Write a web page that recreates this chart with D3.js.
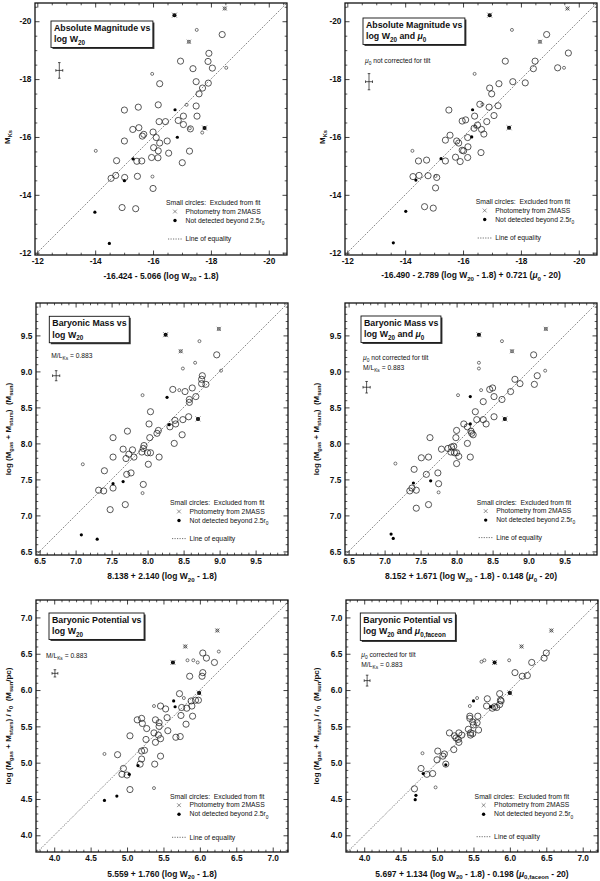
<!DOCTYPE html>
<html>
<head>
<meta charset="utf-8">
<script src="https://cdn.jsdelivr.net/npm/d3@7"></script>
<style>
  body { margin: 0; background: #fff; }
  svg { display: block; }
  text { font-family: "Liberation Sans", Arial, sans-serif; fill: #111; white-space: pre; }
</style>
</head>
<body>
<svg id="chart" width="600" height="881"></svg>
<script>
// ---- data ----
// point type: o = in fit, s = excluded (small), f = not detected beyond 2.5r0,
// x = 2MASS photometry (excluded), fx = 2MASS + not detected
const magW20 = [
  [-16.74,-20.21,'fx'],[-18.48,-20.44,'x'],[-17.51,-19.70,'s'],[-18.39,-19.54,'o'],[-17.24,-19.29,'x'],
  [-17.93,-18.89,'o'],[-16.95,-18.62,'o'],[-17.90,-18.61,'o'],[-17.38,-18.36,'o'],[-18.05,-18.38,'o'],
  [-18.53,-18.39,'s'],[-15.97,-18.18,'s'],[-16.23,-17.84,'o'],[-17.49,-17.91,'o'],[-17.91,-17.86,'o'],
  [-17.71,-17.69,'o'],[-17.59,-17.49,'o'],[-15.49,-17.03,'o'],[-15.01,-16.93,'o'],[-16.18,-17.11,'o'],
  [-17.16,-17.11,'s'],[-17.49,-17.07,'o'],[-16.76,-16.94,'f'],[-17.05,-16.72,'o'],[-17.52,-16.72,'o'],
  [-16.87,-16.57,'o'],[-16.21,-16.53,'o'],[-16.43,-16.53,'o'],[-17.05,-16.43,'o'],[-15.30,-16.26,'o'],
  [-15.51,-16.32,'o'],[-17.29,-16.28,'o'],[-17.27,-16.30,'s'],[-17.78,-16.31,'fx'],[-17.70,-16.15,'s'],
  [-16.00,-16.17,'o'],[-15.68,-16.09,'o'],[-15.63,-16.03,'o'],[-16.11,-15.98,'o'],[-16.84,-15.99,'f'],
  [-15.01,-15.86,'o'],[-16.49,-15.86,'o'],[-16.23,-15.79,'o'],[-16.02,-15.63,'o'],[-14.02,-15.52,'s'],
  [-16.18,-15.52,'o'],[-16.54,-15.44,'o'],[-17.26,-15.51,'o'],[-15.95,-15.29,'o'],[-16.17,-15.28,'o'],
  [-15.31,-15.24,'f'],[-14.74,-15.18,'o'],[-15.44,-15.16,'o'],[-15.61,-15.17,'o'],[-17.01,-15.11,'o'],
  [-14.71,-14.67,'o'],[-14.55,-14.57,'o'],[-15.02,-14.60,'o'],[-15.46,-14.64,'o'],[-15.98,-14.63,'s'],
  [-15.01,-14.49,'f'],[-16.00,-14.22,'o'],[-14.93,-13.56,'o'],[-15.40,-13.52,'o'],[-13.99,-13.40,'f'],
  [-14.49,-12.32,'f']
];
const magW20Mu = [
  [-16.92,-20.21,'fx'],[-19.61,-20.44,'x'],[-17.69,-19.70,'s'],[-18.89,-19.54,'o'],[-18.66,-19.29,'x'],
  [-19.64,-18.90,'o'],[-17.46,-18.62,'o'],[-18.49,-18.62,'o'],[-18.43,-18.36,'o'],[-19.27,-18.39,'o'],
  [-19.49,-18.39,'s'],[-16.40,-18.18,'s'],[-17.24,-17.84,'o'],[-17.72,-17.91,'o'],[-18.15,-17.87,'o'],
  [-16.92,-17.69,'o'],[-16.99,-17.49,'o'],[-15.51,-16.93,'o'],[-16.58,-17.13,'o'],[-16.67,-17.13,'s'],
  [-16.90,-17.03,'o'],[-17.21,-17.08,'o'],[-16.33,-16.94,'f'],[-16.40,-16.72,'o'],[-17.07,-16.74,'o'],
  [-15.97,-16.55,'o'],[-16.09,-16.59,'o'],[-16.50,-16.41,'o'],[-16.82,-16.53,'o'],[-16.38,-16.30,'o'],
  [-16.64,-16.26,'o'],[-16.43,-16.35,'s'],[-17.59,-16.32,'fx'],[-16.72,-16.10,'o'],[-15.55,-16.06,'o'],
  [-15.39,-15.89,'o'],[-15.78,-15.86,'o'],[-15.85,-15.79,'o'],[-16.16,-15.98,'o'],[-16.30,-16.00,'f'],
  [-16.17,-15.66,'o'],[-15.97,-15.54,'o'],[-16.02,-15.52,'o'],[-16.62,-15.46,'o'],[-14.25,-15.52,'s'],
  [-15.74,-15.30,'o'],[-16.16,-15.29,'o'],[-15.90,-15.15,'o'],[-15.24,-15.25,'f'],[-14.74,-15.20,'o'],
  [-14.46,-15.17,'o'],[-15.39,-15.17,'o'],[-14.27,-14.63,'o'],[-14.48,-14.67,'o'],[-14.79,-14.66,'o'],
  [-15.09,-14.60,'o'],[-15.05,-14.65,'s'],[-14.37,-14.51,'f'],[-15.05,-14.24,'o'],[-14.67,-13.59,'o'],
  [-14.97,-13.54,'o'],[-14.02,-13.43,'f'],[-13.59,-12.34,'f']
];
const massW20 = [
  [8.25,9.51,'fx'],[8.99,9.59,'x'],[8.72,9.42,'s'],[8.46,9.28,'x'],[8.96,9.23,'o'],
  [8.66,9.12,'s'],[8.49,9.04,'s'],[9.02,9.01,'s'],[8.76,8.94,'o'],[8.75,8.89,'o'],
  [8.75,8.83,'o'],[8.81,8.82,'o'],[8.62,8.77,'o'],[8.35,8.75,'o'],[8.44,8.74,'s'],
  [8.52,8.72,'o'],[8.67,8.65,'o'],[7.93,8.67,'s'],[8.27,8.64,'f'],[8.58,8.61,'o'],
  [8.58,8.57,'o'],[8.04,8.44,'o'],[8.57,8.37,'o'],[8.49,8.33,'o'],[8.38,8.32,'o'],
  [8.70,8.34,'fx'],[8.02,8.27,'o'],[8.39,8.27,'o'],[8.30,8.26,'f'],[8.31,8.23,'o'],
  [8.15,8.18,'o'],[8.13,8.14,'o'],[7.72,8.17,'o'],[7.52,8.08,'o'],[8.03,8.08,'o'],
  [8.48,8.12,'o'],[8.37,8.00,'o'],[7.95,7.97,'o'],[7.66,7.92,'o'],[7.79,7.91,'o'],
  [7.94,7.93,'o'],[7.92,7.88,'o'],[8.00,7.87,'o'],[8.04,7.87,'o'],[7.74,7.85,'o'],
  [7.52,7.81,'o'],[7.70,7.79,'o'],[7.81,7.81,'o'],[8.16,7.81,'o'],[8.01,7.71,'o'],
  [7.10,7.71,'s'],[7.40,7.62,'o'],[7.77,7.59,'o'],[7.71,7.57,'o'],[7.52,7.44,'f'],
  [7.94,7.43,'o'],[7.66,7.47,'f'],[7.52,7.38,'o'],[7.32,7.35,'o'],[7.39,7.34,'o'],
  [7.93,7.31,'s'],[7.69,7.15,'o'],[7.48,7.08,'o'],[7.08,6.73,'f'],[7.30,6.67,'f']
];
const massW20Mu = [
  [8.31,9.51,'fx'],[9.24,9.59,'x'],[8.63,9.42,'s'],[8.77,9.28,'x'],[9.07,9.23,'o'],
  [8.31,9.12,'s'],[8.31,9.04,'s'],[9.23,9.01,'s'],[9.12,8.94,'o'],[8.81,8.89,'o'],
  [8.88,8.83,'o'],[9.08,8.82,'o'],[8.50,8.77,'o'],[8.46,8.75,'o'],[8.34,8.74,'s'],
  [8.75,8.72,'o'],[8.52,8.65,'o'],[8.02,8.67,'s'],[8.19,8.65,'f'],[8.63,8.61,'o'],
  [8.37,8.58,'o'],[8.26,8.44,'o'],[8.52,8.37,'o'],[8.37,8.33,'o'],[8.28,8.33,'o'],
  [8.67,8.34,'fx'],[8.41,8.27,'o'],[8.10,8.27,'o'],[8.19,8.27,'f'],[8.15,8.23,'o'],
  [8.20,8.17,'o'],[8.23,8.12,'o'],[8.00,8.18,'o'],[7.63,8.08,'o'],[7.99,8.08,'o'],
  [8.21,8.14,'o'],[8.15,8.00,'o'],[7.96,7.96,'o'],[7.79,7.92,'o'],[7.88,7.93,'o'],
  [7.92,7.88,'o'],[7.97,7.87,'o'],[8.00,7.87,'o'],[7.93,7.95,'o'],[7.51,7.80,'o'],
  [7.61,7.81,'o'],[8.03,7.82,'o'],[8.19,7.81,'o'],[8.00,7.72,'o'],[7.15,7.72,'s'],
  [7.41,7.64,'o'],[7.58,7.57,'o'],[7.74,7.59,'o'],[7.40,7.45,'f'],[7.75,7.44,'o'],
  [7.64,7.48,'f'],[7.44,7.35,'o'],[7.35,7.34,'o'],[7.38,7.38,'o'],[7.75,7.32,'s'],
  [7.61,7.15,'o'],[7.44,7.10,'o'],[7.09,6.74,'f'],[7.12,6.68,'f']
];
const potW20 = [
  [6.24,6.82,'x'],[5.80,6.60,'x'],[6.26,6.53,'s'],[5.63,6.38,'fx'],[5.83,6.41,'s'],
  [5.91,6.41,'s'],[5.97,6.38,'s'],[6.04,6.51,'o'],[6.09,6.44,'o'],[6.20,6.38,'o'],
  [6.04,6.24,'o'],[6.03,6.19,'o'],[5.86,6.19,'o'],[5.99,5.96,'fx'],[5.72,5.95,'o'],
  [5.78,5.89,'s'],[5.64,5.85,'f'],[5.88,5.85,'o'],[5.94,5.86,'o'],[5.98,5.86,'o'],
  [5.37,5.78,'s'],[5.46,5.78,'o'],[5.53,5.74,'o'],[5.66,5.77,'f'],[5.75,5.76,'o'],
  [5.82,5.75,'o'],[5.89,5.78,'o'],[5.74,5.65,'o'],[5.55,5.62,'o'],[5.90,5.64,'o'],
  [5.14,5.59,'o'],[5.20,5.61,'o'],[5.39,5.59,'o'],[5.21,5.54,'o'],[5.44,5.55,'o'],
  [5.81,5.53,'o'],[5.44,5.50,'o'],[5.27,5.47,'o'],[5.56,5.44,'o'],[5.37,5.41,'o'],
  [5.43,5.38,'o'],[5.67,5.35,'o'],[5.73,5.36,'o'],[5.04,5.37,'o'],[5.46,5.33,'o'],
  [5.26,5.32,'o'],[5.39,5.28,'o'],[5.24,5.17,'o'],[5.20,5.16,'o'],[5.46,5.09,'o'],
  [4.87,5.11,'o'],[4.69,5.12,'s'],[5.20,5.05,'o'],[5.18,4.98,'o'],[5.38,4.98,'o'],
  [5.15,4.96,'f'],[4.95,4.92,'o'],[4.93,4.84,'o'],[5.00,4.83,'o'],[5.03,4.84,'f'],
  [5.04,4.63,'o'],[5.37,4.65,'s'],[4.86,4.54,'f'],[4.69,4.48,'f']
];
const potW20Mu = [
  [6.57,6.82,'x'],[6.16,6.60,'x'],[6.50,6.51,'o'],[6.47,6.44,'o'],[6.30,6.38,'o'],
  [5.79,6.38,'fx'],[5.61,6.39,'s'],[5.65,6.41,'s'],[5.99,6.41,'s'],[6.07,6.24,'o'],
  [6.17,6.19,'o'],[6.24,6.20,'o'],[6.00,5.96,'fx'],[5.86,5.95,'o'],[5.55,5.89,'s'],
  [5.50,5.85,'f'],[5.69,5.88,'o'],[5.87,5.86,'o'],[5.88,5.85,'o'],[5.86,5.80,'o'],
  [5.45,5.78,'s'],[5.74,5.77,'f'],[5.68,5.78,'o'],[5.76,5.75,'o'],[5.79,5.77,'o'],
  [5.82,5.76,'o'],[5.45,5.64,'o'],[5.45,5.61,'o'],[5.56,5.64,'o'],[5.49,5.56,'o'],
  [5.50,5.52,'o'],[5.55,5.55,'o'],[5.57,5.45,'o'],[5.43,5.46,'o'],[5.46,5.41,'o'],
  [5.49,5.40,'o'],[5.46,5.38,'o'],[5.17,5.41,'o'],[5.30,5.41,'o'],[5.34,5.38,'o'],
  [5.26,5.34,'o'],[5.24,5.37,'o'],[5.29,5.32,'o'],[5.23,5.18,'o'],[5.30,5.28,'o'],
  [5.00,5.04,'o'],[5.01,5.16,'o'],[5.08,5.09,'o'],[5.10,5.12,'o'],[4.80,5.13,'s'],
  [5.12,4.98,'o'],[5.12,4.97,'f'],[4.78,4.92,'o'],[4.86,4.84,'o'],[4.94,4.85,'o'],
  [4.81,4.85,'f'],[4.69,4.64,'o'],[4.98,4.66,'s'],[4.71,4.55,'f'],[4.70,4.49,'f']
];

// typical error bars: [x, y, xerr, yerr]
const errMagW20 = [-12.76, -18.30, 0.12, 0.27];
const errMagW20Mu = [-12.75, -17.91, 0.12, 0.28];
const errMassW20 = [6.73, 8.94, 0.05, 0.07];
const errMassW20Mu = [6.75, 8.78, 0.05, 0.08];
const errPotW20 = [4.01, 6.23, 0.04, 0.05];
const errPotW20Mu = [4.04, 6.13, 0.04, 0.075];

const magTicks = [-12, -14, -16, -18, -20];
const massTicks = [6.5, 7.0, 7.5, 8.0, 8.5, 9.0, 9.5];
const potTicks = [4.0, 4.5, 5.0, 5.5, 6.0, 6.5, 7.0];
const magDomain = [-11.92, -20.63];
const massDomain = [6.45, 9.95];
const potDomainX = [3.75, 7.21];
const potDomainY = [3.77, 7.24];

const mlRatio = '0.883';

// ---- text pieces ----
const W20 = [['log W'], ['20', 'sub']];
const MU0 = [['\u03bc', 'it'], ['0', 'sub']];
const mlNote = [['M/L'], ['Ks', 'sub'], [' = ' + mlRatio]];
const yMag = [['M'], ['Ks', 'sub']];
const yMass = [['log (M'], ['gas', 'sub'], [' + M'], ['stars', 'sub'], [')  (M'], ['sun', 'sub'], [')']];
const yPot = [['log (M'], ['gas', 'sub'], [' + M'], ['stars', 'sub'], [') / r'], ['0', 'sub'], ['  (M'], ['sun', 'sub'], ['/pc)']];

const FRAME = 252;
const panels = [
  { pts: magW20, err: errMagW20, x0: 35, y0: 3, xd: magDomain, yd: magDomain, ticks: magTicks, minor: 0.5, fmt: d => String(d),
    title: [[['Absolute Magnitude vs']], W20], box: [16, 18],
    xt: [['-16.424 - 5.066 (log W'], ['20', 'sub'], [' - 1.8)']], xty: 23.5,
    yt: yMag, ytx: 9.5, yty: 8, notes: [], leg: [131, 200, 36] },
  { pts: magW20Mu, err: errMagW20Mu, x0: 345, y0: 3, xd: magDomain, yd: magDomain, ticks: magTicks, minor: 0.5, fmt: d => String(d),
    title: [[['Absolute Magnitude vs']], [...W20, [' and '], ...MU0]], box: [18, 15],
    xt: [['-16.490 - 2.789 (log W'], ['20', 'sub'], [' - 1.8) + 0.721 ('], ...MU0, [' - 20)']], xty: 23,
    yt: yMag, ytx: 324.5, yty: 8, notes: [[20, 59.5, [...MU0, [' not corrected for tilt']]]], leg: [130.7, 199, 36] },
  { pts: massW20, err: errMassW20, x0: 36, y0: 303, xd: massDomain, yd: massDomain, ticks: massTicks, minor: 0.1, fmt: d3.format('.1f'),
    title: [[['Baryonic Mass vs']], W20], box: [13.3, 13.3],
    xt: [['8.138 + 2.140 (log W'], ['20', 'sub'], [' - 1.8)']], xty: 24,
    yt: yMass, ytx: 10.5, yty: 0, notes: [[15.3, 54.8, mlNote]], leg: [134, 200, 35.6] },
  { pts: massW20Mu, err: errMassW20Mu, x0: 345, y0: 303, xd: massDomain, yd: massDomain, ticks: massTicks, minor: 0.1, fmt: d3.format('.1f'),
    title: [[['Baryonic Mass vs']], [...W20, [' and '], ...MU0]], box: [16, 13],
    xt: [['8.152 + 1.671 (log W'], ['20', 'sub'], [' - 1.8) - 0.148 ('], ...MU0, [' - 20)']], xty: 24,
    yt: yMass, ytx: 319, yty: 0, notes: [[18, 57, [...MU0, [' not corrected for tilt']]], [18, 67, mlNote]], leg: [131.7, 199.6, 35] },
  { pts: potW20, err: errPotW20, x0: 36, y0: 600, xd: potDomainX, yd: potDomainY, ticks: potTicks, minor: 0.1, fmt: d3.format('.1f'),
    title: [[['Baryonic Potential vs']], W20], box: [13, 13],
    xt: [['5.559 + 1.760 (log W'], ['20', 'sub'], [' - 1.8)']], xty: 24.5,
    yt: yPot, ytx: 10.5, yty: 0, notes: [[10, 57.5, mlNote]], leg: [134, 196.7, 40.6] },
  { pts: potW20Mu, err: errPotW20Mu, x0: 346, y0: 600, xd: potDomainX, yd: potDomainY, ticks: potTicks, minor: 0.1, fmt: d3.format('.1f'),
    title: [[['Baryonic Potential vs']], [...W20, [' and '], ['\u03bc', 'it'], ['0,faceon', 'sub']]], box: [14.3, 13],
    xt: [['5.697 + 1.134 (log W'], ['20', 'sub'], [' - 1.8) - 0.198 ('], ['\u03bc', 'it'], ['0,faceon', 'sub'], [' - 20)']], xty: 24.5,
    yt: yPot, ytx: 319, yty: 0, notes: [[15.3, 56.7, [...MU0, [' corrected for tilt']]], [15.3, 66.7, mlNote]], leg: [128.6, 196.7, 40] }
];

const svg = d3.select('#chart');
const ink = '#111';

// text with subscripts / italics
function rich(sel, parts, fs) {
  let down = false;
  parts.forEach(([t, s]) => {
    const ts = sel.append('tspan').text(t);
    if (s === 'sub') {
      ts.attr('font-size', fs * 0.72);
      if (!down) ts.attr('dy', fs * 0.3);
      down = true;
    } else {
      if (down) ts.attr('dy', -fs * 0.3);
      down = false;
      if (s === 'it') ts.attr('font-style', 'italic');
    }
  });
  return sel;
}

function minorValues(dom, step, majors) {
  const lo = Math.min(...dom), hi = Math.max(...dom), out = [];
  for (let k = Math.ceil(lo / step - 1e-9); k * step <= hi + 1e-9; k++) {
    const v = +(k * step).toFixed(6);
    if (!majors.some(m => Math.abs(m - v) < 1e-6)) out.push(v);
  }
  return out;
}

function crossPath(cx, cy, s) {
  return `M${cx - s},${cy - s}L${cx + s},${cy + s}M${cx - s},${cy + s}L${cx + s},${cy - s}`;
}

panels.forEach((p, i) => {
  const x = d3.scaleLinear().domain(p.xd).range([p.x0, p.x0 + FRAME]);
  const y = d3.scaleLinear().domain(p.yd).range([p.y0 + FRAME, p.y0]);
  const g = svg.append('g');

  const clipId = 'clip' + i;
  svg.append('clipPath').attr('id', clipId)
    .append('rect').attr('x', p.x0).attr('y', p.y0).attr('width', FRAME).attr('height', FRAME);

  // Axes (ticks inward on all four sides)
  const minorX = minorValues(p.xd, p.minor, p.ticks);
  const minorY = minorValues(p.yd, p.minor, p.ticks);
  const axes = [
    [d3.axisBottom(x), `translate(0,${p.y0 + FRAME})`, minorX, true],
    [d3.axisTop(x), `translate(0,${p.y0})`, minorX, false],
    [d3.axisLeft(y), `translate(${p.x0},0)`, minorY, true],
    [d3.axisRight(y), `translate(${p.x0 + FRAME},0)`, minorY, false]
  ];
  axes.forEach(([ax, tr, minors, labels]) => {
    const major = ax.tickValues(p.ticks).tickSize(-4.5).tickPadding(labels ? 3.6 : 0)
      .tickFormat(labels ? p.fmt : '');
    const ga = g.append('g').attr('transform', tr).call(major);
    ga.select('.domain').remove();
    ga.selectAll('line').attr('stroke', ink).attr('stroke-width', 0.8);
    ga.selectAll('text').attr('font-size', 8.3).attr('font-weight', 'bold')
      .attr('font-family', '"Liberation Sans", Arial, sans-serif').attr('fill', ink);
    const gm = g.append('g').attr('transform', tr)
      .call(ax.tickValues(minors).tickSize(-2.3).tickFormat(''));
    gm.select('.domain').remove();
    gm.selectAll('line').attr('stroke', ink).attr('stroke-width', 0.7);
  });

  g.append('rect').attr('x', p.x0).attr('y', p.y0).attr('width', FRAME).attr('height', FRAME)
    .attr('fill', 'none').attr('stroke', ink).attr('stroke-width', 1.3);

  // Line of equality
  const lo = Math.min(...p.xd, ...p.yd) - 1, hi = Math.max(...p.xd, ...p.yd) + 1;
  g.append('path')
    .datum([lo, hi])
    .attr('clip-path', `url(#${clipId})`)
    .attr('d', d3.line().x(v => x(v)).y(v => y(v)))
    .attr('fill', 'none').attr('stroke', '#333').attr('stroke-width', 0.7)
    .attr('stroke-dasharray', '1.2,1.3');

  // Points
  const pts = g.append('g').attr('clip-path', `url(#${clipId})`);
  pts.selectAll('circle.open')
    .data(p.pts.filter(d => d[2] === 'o' || d[2] === 's' || d[2] === 'x'))
    .join('circle')
    .attr('cx', d => x(d[0])).attr('cy', d => y(d[1]))
    .attr('r', d => d[2] === 'o' ? 3.1 : 1.5)
    .attr('fill', 'none').attr('stroke', '#222')
    .attr('stroke-width', d => d[2] === 'o' ? 0.75 : 0.6);
  pts.selectAll('circle.fill')
    .data(p.pts.filter(d => d[2] === 'f' || d[2] === 'fx'))
    .join('circle')
    .attr('cx', d => x(d[0])).attr('cy', d => y(d[1]))
    .attr('r', d => d[2] === 'fx' ? 2.0 : 1.6)
    .attr('fill', '#000');
  pts.selectAll('path.cross')
    .data(p.pts.filter(d => d[2] === 'x' || d[2] === 'fx'))
    .join('path')
    .attr('d', d => crossPath(x(d[0]), y(d[1]), d[2] === 'fx' ? 2.5 : 2.1))
    .attr('stroke', '#333').attr('stroke-width', 0.6).attr('fill', 'none');

  // Typical error bar
  const [ex, ey, dx, dy] = p.err;
  const eb = g.append('g').attr('stroke', ink).attr('stroke-width', 0.7);
  const cap = 1.3;
  eb.append('line').attr('x1', x(ex)).attr('x2', x(ex)).attr('y1', y(ey - dy)).attr('y2', y(ey + dy));
  eb.append('line').attr('x1', x(ex - dx)).attr('x2', x(ex + dx)).attr('y1', y(ey)).attr('y2', y(ey));
  [ey - dy, ey + dy].forEach(v => eb.append('line')
    .attr('x1', x(ex) - cap).attr('x2', x(ex) + cap).attr('y1', y(v)).attr('y2', y(v)));
  [ex - dx, ex + dx].forEach(v => eb.append('line')
    .attr('x1', x(v)).attr('x2', x(v)).attr('y1', y(ey) - cap).attr('y2', y(ey) + cap));

  // Title box
  const bx = p.x0 + p.box[0], by = p.y0 + p.box[1];
  const tg = g.append('g');
  const tt = tg.append('g');
  p.title.forEach((line, k) => {
    rich(tt.append('text').attr('x', bx + 3).attr('y', by + 10 + k * 11.3)
      .attr('font-size', 8.8).attr('font-weight', 'bold'), line, 8.8);
  });
  const bb = tt.node().getBBox();
  const bw = bb.x + bb.width + 2.5 - bx, bh = bb.y + bb.height + 1.5 - by;
  tg.insert('rect', ':first-child').attr('x', bx).attr('y', by).attr('width', bw).attr('height', bh)
    .attr('fill', '#fff').attr('stroke', ink).attr('stroke-width', 0.9);
  tg.insert('rect', ':first-child').attr('x', bx + 1.5).attr('y', by + 1.5).attr('width', bw).attr('height', bh)
    .attr('fill', '#333');

  // Notes
  p.notes.forEach(([nx, ny, parts]) => {
    rich(g.append('text').attr('x', p.x0 + nx).attr('y', p.y0 + ny).attr('font-size', 6.7).attr('fill', '#222'), parts, 6.7);
  });

  // Legend
  const [lx, ly, lgap] = p.leg;
  const L = g.append('g').attr('transform', `translate(${p.x0 + lx},${p.y0 + ly})`);
  const lfs = 6.8;
  L.append('text').attr('x', 0).attr('y', 2.3).attr('font-size', lfs).attr('fill', '#222')
    .text('Small circles:  Excluded from fit');
  L.append('path').attr('d', crossPath(9, 8.5, 1.9)).attr('stroke', '#444').attr('stroke-width', 0.6);
  L.append('text').attr('x', 19.5).attr('y', 10.8).attr('font-size', lfs).attr('fill', '#222')
    .text('Photometry from 2MASS');
  L.append('circle').attr('cx', 9).attr('cy', 17.5).attr('r', 1.7).attr('fill', '#000');
  rich(L.append('text').attr('x', 19.5).attr('y', 19.8).attr('font-size', lfs).attr('fill', '#222'),
    [['Not detected beyond 2.5r'], ['0', 'sub']], lfs);
  L.append('line').attr('x1', 2).attr('x2', 16).attr('y1', lgap).attr('y2', lgap)
    .attr('stroke', '#333').attr('stroke-width', 0.7).attr('stroke-dasharray', '1.2,1.3');
  L.append('text').attr('x', 19.5).attr('y', lgap + 2.3).attr('font-size', lfs).attr('fill', '#222')
    .text('Line of equality');

  // Axis titles
  rich(g.append('text').attr('x', p.x0 + FRAME / 2).attr('y', p.y0 + FRAME + p.xty)
    .attr('text-anchor', 'middle').attr('font-size', 8.5).attr('font-weight', 'bold'), p.xt, 8.5);
  rich(g.append('text')
    .attr('transform', `translate(${p.ytx},${p.y0 + FRAME / 2 + p.yty}) rotate(-90)`)
    .attr('text-anchor', 'middle').attr('font-size', 8).attr('font-weight', 'bold'), p.yt, 8);
});
</script>
</body>
</html>
